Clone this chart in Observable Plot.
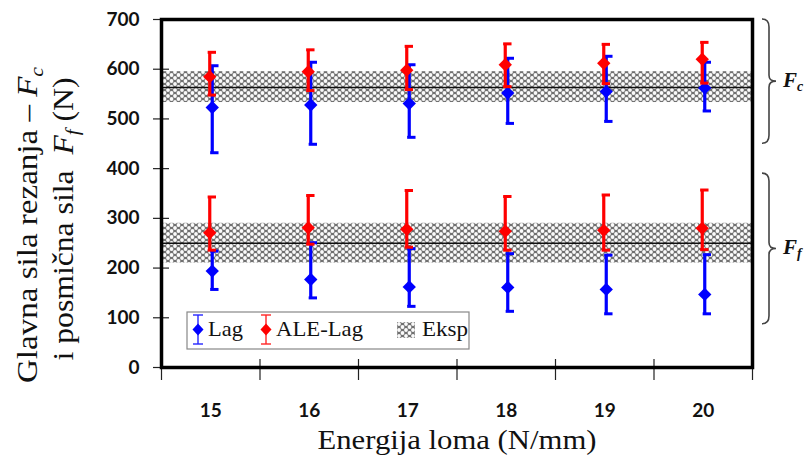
<!DOCTYPE html>
<html>
<head>
<meta charset="utf-8">
<script src="https://cdn.jsdelivr.net/npm/d3@7"></script>
<script src="https://cdn.jsdelivr.net/npm/@observablehq/plot@0.6"></script>
<style>
  body { margin: 0; background: #fff; }
  svg { display: block; }
</style>
</head>
<body>
<div id="chart"></div>
<script>
// Fracture energy (N/mm) on the x axis
const energy = [15, 16, 17, 18, 19, 20];
const xTickLabels = [15, 16, 17, 18, 19, 20];
const xCellEdges = [14.5, 15.5, 16.5, 17.5, 18.5, 19.5, 20.5];
const yTicks = [0, 100, 200, 300, 400, 500, 600, 700];

// Lagrangian model: cutting force Fc (mean, min, max)
const lagFc = [523, 528, 531, 552, 555, 562];
const lagFcLo = [432, 449, 463, 491, 495, 516];
const lagFcHi = [607, 614, 609, 622, 626, 614];
// Lagrangian model: feed force Ff
const lagFf = [194, 177, 162, 161, 157, 147];
const lagFfLo = [157, 140, 123, 113, 108, 108];
const lagFfHi = [234, 251, 239, 229, 226, 227];

// ALE-Lagrangian model: cutting force Fc
const aleFc = [585, 595, 598, 609, 612, 620];
const aleFcLo = [548, 557, 559, 565, 571, 572];
const aleFcHi = [634, 639, 646, 651, 650, 654];
// ALE-Lagrangian model: feed force Ff
const aleFf = [271, 281, 278, 274, 276, 280];
const aleFfLo = [236, 248, 242, 236, 236, 237];
const aleFfHi = [343, 346, 356, 344, 347, 357];

// Experiment: measured force and its scatter band
const expNames = ["Fc", "Ff"];
const expValue = [563, 250];
const expLo = [533, 210];
const expHi = [595, 290];

// Braces grouping the two force levels on the right
const braceSub = ["c", "f"];
const braceFrom = [700, 390];
const braceTo = [450, 87];

const blue = "#0000ff";
const red = "#ff0000";

function rows(mean, lo, hi) {
  return energy.map((e, i) => ({energy: e, mean: mean[i], lo: lo[i], hi: hi[i]}));
}
const lagRows = [...rows(lagFc, lagFcLo, lagFcHi), ...rows(lagFf, lagFfLo, lagFfHi)];
const aleRows = [...rows(aleFc, aleFcLo, aleFcHi), ...rows(aleFf, aleFfLo, aleFfHi)];
const expRows = expNames.map((n, i) => ({name: n, value: expValue[i], lo: expLo[i], hi: expHi[i]}));

const capLen = 0.085; // error-bar cap length, in x units

function errorBars(data, color, dx) {
  return [
    Plot.ruleX(data, {x: "energy", y1: "lo", y2: "hi", stroke: color, strokeWidth: 3.2, dx}),
    Plot.ruleY(data, {y: "hi", x1: "energy", x2: d => d.energy + capLen, stroke: color, strokeWidth: 3, dx: dx - 1.6}),
    Plot.ruleY(data, {y: "lo", x1: "energy", x2: d => d.energy + capLen, stroke: color, strokeWidth: 3, dx: dx - 1.6}),
    Plot.dot(data, {x: "energy", y: "mean", symbol: "diamond2", r: 6, fill: color, stroke: "none", dx})
  ];
}

const chart = Plot.plot({
  width: 807,
  height: 459,
  marginLeft: 161,
  marginRight: 55,
  marginTop: 19,
  marginBottom: 92,
  style: {background: "#fff", overflow: "visible"},
  x: {domain: [14.5, 20.5], axis: null},
  y: {domain: [0, 700], axis: null},
  marks: [
    Plot.rect(expRows, {y1: "lo", y2: "hi", fill: "url(#eksp-hatch)"}),
    Plot.ruleY(expRows, {y: "value", stroke: "#111", strokeWidth: 1.5}),
    ...errorBars(lagRows, blue, 1.5),
    ...errorBars(aleRows, red, -1),
    // y axis: ticks crossing the frame, bold labels
    Plot.axisY(yTicks, {anchor: "left", tickSize: 16, dx: 8, fill: "none", label: null, stroke: "#222", strokeWidth: 1.2}),
    Plot.axisY(yTicks, {anchor: "left", tickSize: 0, tickPadding: 22, label: null, fontSize: 19, fontWeight: "bold", fontFamily: "Lato, sans-serif", fill: "#111"}),
    // x axis: ticks between categories, labels at category centres
    Plot.axisX(xCellEdges, {anchor: "bottom", tickSize: 21, dy: -8, fill: "none", label: null, stroke: "#222", strokeWidth: 1.2}),
    Plot.axisX(xTickLabels, {anchor: "bottom", tickSize: 0, tickPadding: 36, label: null, fontSize: 19, fontWeight: "bold", fontFamily: "Lato, sans-serif", fill: "#111"}),
    Plot.frame({stroke: "#000", strokeWidth: 3.5})
  ]
});

document.getElementById("chart").appendChild(chart);

const svg = d3.select(chart);
const yScale = chart.scale("y");
const serif = "'Liberation Serif', 'Times New Roman', serif";

// hatch pattern for the experimental band
svg.insert("defs", ":first-child").html(`
  <pattern id="eksp-hatch" patternUnits="userSpaceOnUse" width="7" height="6">
    <rect width="7" height="6" fill="#707070"/>
    <circle cx="0" cy="0" r="1.9" fill="#fafafa"/>
    <circle cx="7" cy="0" r="1.9" fill="#fafafa"/>
    <circle cx="0" cy="6" r="1.9" fill="#fafafa"/>
    <circle cx="7" cy="6" r="1.9" fill="#fafafa"/>
    <circle cx="3.5" cy="3" r="1.9" fill="#fafafa"/>
  </pattern>`);

// y axis title (two lines, rotated)
function yTitleLine(x, yc, len, pre, sub, post) {
  const t = svg.append("text")
    .attr("font-family", serif).attr("font-size", 29).attr("fill", "#111")
    .attr("text-anchor", "middle")
    .attr("transform", `translate(${x},${yc}) rotate(-90)`)
    .attr("textLength", len).attr("lengthAdjust", "spacingAndGlyphs");
  t.append("tspan").text(pre);
  t.append("tspan").attr("font-style", "italic").text("F");
  t.append("tspan").attr("font-style", "italic").attr("font-size", 19).attr("dy", 6).text(sub);
  if (post) t.append("tspan").attr("dy", -6).text(" " + post);
}
yTitleLine(37, 225, 316, "Glavna sila rezanja – ", "c", "");
yTitleLine(73, 219, 283, "i posmična sila  ", "f", "(N)");

// x axis title
svg.append("text")
  .attr("font-family", serif).attr("font-size", 27).attr("fill", "#111")
  .attr("text-anchor", "middle")
  .attr("x", 457).attr("y", 449)
  .attr("textLength", 279).attr("lengthAdjust", "spacingAndGlyphs")
  .text("Energija loma (N/mm)");

// right-hand braces with force labels
braceSub.forEach((s, i) => {
  const y1 = yScale.apply(braceFrom[i]);
  const y2 = yScale.apply(braceTo[i]);
  const ym = (y1 + y2) / 2;
  const x0 = 762, xm = 769, xt = 776;
  svg.append("path")
    .attr("d", `M${x0},${y1} Q${xm},${y1} ${xm},${y1 + 8} L${xm},${ym - 6} Q${xm},${ym} ${xt},${ym} Q${xm},${ym} ${xm},${ym + 6} L${xm},${y2 - 8} Q${xm},${y2} ${x0},${y2}`)
    .attr("fill", "none").attr("stroke", "#444").attr("stroke-width", 1.6);
  const t = svg.append("text")
    .attr("font-family", serif).attr("font-size", 21).attr("font-weight", "bold")
    .attr("font-style", "italic").attr("fill", "#111").attr("text-anchor", "start")
    .attr("x", 783).attr("y", ym + 6);
  t.append("tspan").text("F");
  t.append("tspan").attr("font-size", 14).attr("dy", 4).text(s);
});

// legend
const lg = svg.append("g").attr("text-anchor", "start");
lg.append("rect").attr("x", 187).attr("y", 312).attr("width", 282).attr("height", 37)
  .attr("fill", "#fff").attr("stroke", "#888").attr("stroke-width", 1.2);
function legendBar(x, color) {
  const g = lg.append("g").attr("stroke", color).attr("stroke-width", 1.4).attr("opacity", 0.85);
  g.append("line").attr("x1", x).attr("x2", x).attr("y1", 315).attr("y2", 344);
  g.append("line").attr("x1", x - 5).attr("x2", x + 5).attr("y1", 315).attr("y2", 315);
  g.append("line").attr("x1", x - 5).attr("x2", x + 5).attr("y1", 344).attr("y2", 344);
  lg.append("path").attr("d", `M${x},${323.5} L${x + 5.5},${329.5} L${x},${335.5} L${x - 5.5},${329.5} Z`).attr("fill", color);
}
function legendText(x, len, txt) {
  lg.append("text").attr("font-family", serif).attr("font-size", 21).attr("fill", "#111")
    .attr("text-anchor", "start")
    .attr("x", x).attr("y", 336).attr("textLength", len).attr("lengthAdjust", "spacingAndGlyphs").text(txt);
}
legendBar(198, blue);
legendText(208, 35, "Lag");
legendBar(266, red);
legendText(276, 87, "ALE-Lag");
lg.append("rect").attr("x", 397).attr("y", 322).attr("width", 18).attr("height", 16).attr("fill", "url(#eksp-hatch)");
legendText(422, 46, "Eksp");
</script>
</body>
</html>
